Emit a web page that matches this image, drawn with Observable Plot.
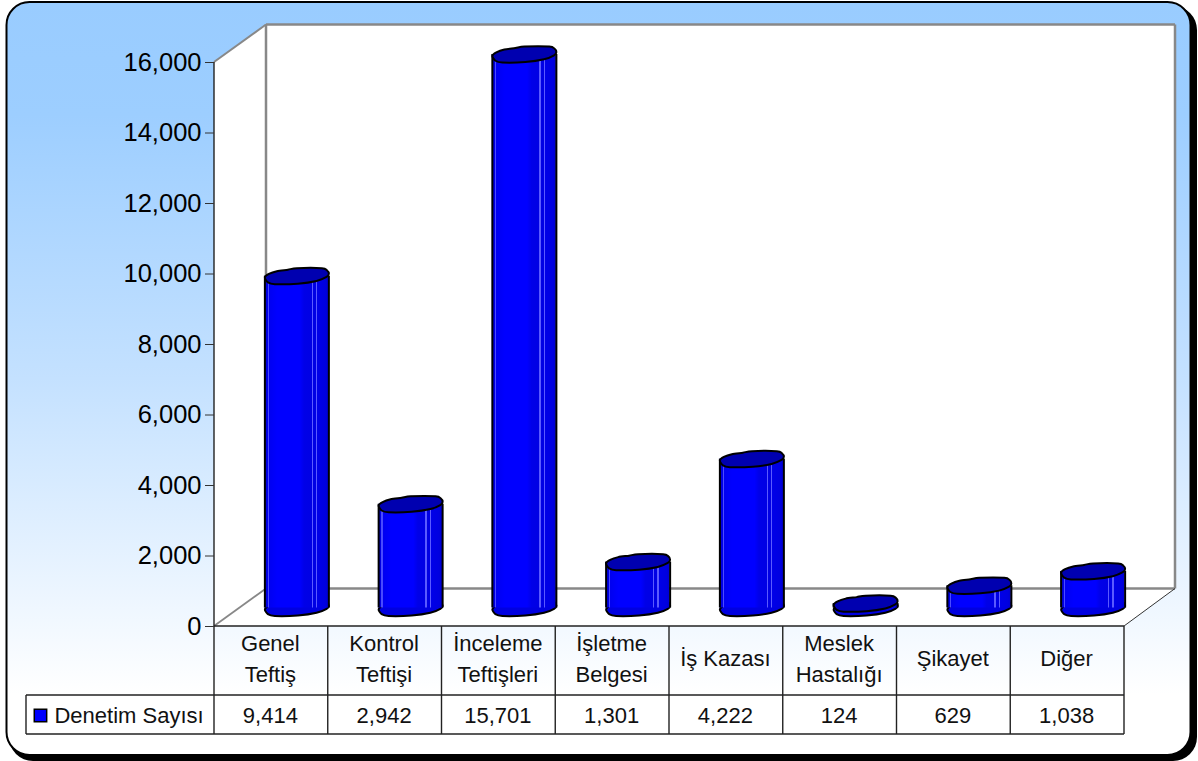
<!DOCTYPE html>
<html lang="tr">
<head>
<meta charset="utf-8">
<style>html,body{margin:0;padding:0;background:#fff}svg{display:block}</style>
<script src="https://cdn.jsdelivr.net/npm/d3@7"></script>
<script src="https://cdn.jsdelivr.net/npm/@observablehq/plot@0.6"></script>
</head>
<body>
<div id="chart"></div>
<script>
const categories = ["Genel Teftiş","Kontrol Teftişi","İnceleme Teftişleri","İşletme Belgesi","İş Kazası","Meslek Hastalığı","Şikayet","Diğer"];
const categoryLabels = ["Genel\nTeftiş","Kontrol\nTeftişi","İnceleme\nTeftişleri","İşletme\nBelgesi","İş Kazası","Meslek\nHastalığı","Şikayet","Diğer"];
const values = [9414,2942,15701,1301,4222,124,629,1038];
const yTicks = [0,2000,4000,6000,8000,10000,12000,14000,16000];
const seriesName = "Denetim Sayısı";
const rows = categories.map((cat,i)=>({cat,label:categoryLabels[i],value:values[i]}));
const fmt = d3.format(",");
const font = "'Liberation Sans', Arial, sans-serif";
const depthX = 52, depthY = 37.5, barW = 64, barDx = 25.5, barDy = -18.5;
const rowH1 = 69, rowH2 = 108;

const capShape = [[-32,1.3],[-28,-2.2],[-20,-5],[-9,-6.5],[0,-8],[25,-8],[30,-6],[32,-2.4],[29.7,.8],[19.7,4.8],[1,7.5],[-22,8],[-29,6.2]];
const capSymbol = {draw(ctx){ d3.line().curve(d3.curveCardinalClosed.tension(0.2)).context(ctx)(capShape); }};

const el = (n,a={},p)=>{const e=document.createElementNS("http://www.w3.org/2000/svg",n);for(const k in a)e.setAttribute(k,a[k]);if(p)p.appendChild(e);return e;};
function backdrop(index,scales){
  const g = el("g");
  const defs = el("defs",{},g);
  const bg = el("linearGradient",{id:"panel",x1:0,x2:0,y1:0,y2:1},defs);
  [[0,"#99ccff"],[0.15,"#9dceff"],[0.5,"#c4e1ff"],[0.92,"#ffffff"],[1,"#ffffff"]].forEach(([o,c])=>el("stop",{offset:o,"stop-color":c},bg));
  const bar = el("linearGradient",{id:"barFill",x1:0,x2:1,y1:0,y2:0},defs);
  [[0,"#0000d8"],[.05,"#0000e8"],[.05,"#4a4aff"],[.07,"#4a4aff"],[.07,"#0000f0"],[.2,"#0000ff"],[.55,"#0000ff"],[.62,"#0000e8"],[.74,"#0000e4"],[.74,"#5a5aff"],[.76,"#5a5aff"],[.76,"#0000e4"],[.81,"#0000e4"],[.81,"#5a5aff"],[.83,"#5a5aff"],[.83,"#0000e8"],[.95,"#0000e0"],[1,"#0000d0"]]
    .forEach(([o,c])=>el("stop",{offset:o,"stop-color":c},bar));
  el("rect",{x:9,y:6,width:1188,height:755,rx:24,fill:"#000"},g);
  el("rect",{x:6.5,y:2,width:1184,height:753,rx:23,fill:"url(#panel)",stroke:"#000","stroke-width":2},g);
  const x0=214, x1=1124;
  const yb=scales.y(0), yt=scales.y(16000);
  const P=(pts,attrs)=>el("polygon",{points:pts.map(p=>p.join(",")).join(" "),...attrs},g);
  const L=(a,b,s,w)=>el("line",{x1:a[0],y1:a[1],x2:b[0],y2:b[1],stroke:s,"stroke-width":w},g);
  const bl=[x0,yb], tl=[x0,yt], tb=[x0+depthX,yt-depthY], bb=[x0+depthX,yb-depthY], tr=[x1+depthX-1,yt-depthY], br=[x1+depthX-1,yb-depthY], fr=[x1,yb];
  P([tl,tb,tr,br,fr,bl],{fill:"#fff"});
  L(tl,tb,"#888",2); L(tb,tr,"#888",2.5); L(tb,bb,"#888",2.5); L(bb,br,"#888",2.5); L(tr,br,"#888",2.5); L(bl,bb,"#888",1.8); L(fr,br,"#333",1);
  return g;
}
function tableGrid(index,scales){
  const g = el("g",{stroke:"#222","stroke-width":1.4});
  const step=(1124-214)/categories.length, yb=scales.y(0), yt=scales.y(16000);
  const L=(a,b,c,d)=>el("line",{x1:a,y1:b,x2:c,y2:d},g);
  L(214,yt,214,yb+rowH2);
  categories.forEach((c,i)=>L(214+step*(i+1),yb,214+step*(i+1),yb+rowH2));
  L(214,yb,1124,yb);
  L(26,yb+rowH1,1124,yb+rowH1);
  L(26,yb+rowH2,1124,yb+rowH2);
  L(26,yb+rowH1,26,yb+rowH2);
  return g;
}

const plot = Plot.plot({
  width:1198, height:761,
  marginLeft:214, marginRight:74, marginTop:62, marginBottom:135,
  style:{background:"transparent",fontFamily:font,overflow:"visible"},
  x:{type:"band",domain:categories,padding:0,round:false,axis:null},
  y:{domain:[0,16000],axis:null},
  marks:[
    backdrop,
    Plot.dot(rows,{x:"cat",y:()=>0,dx:barDx,dy:barDy,symbol:()=>capSymbol,fill:"#0000e0",stroke:"#000",strokeWidth:2}),
    Plot.barY(rows,{x:"cat",y:"value",dx:barDx,dy:barDy,insetLeft:(113.75-barW)/2,insetRight:(113.75-barW)/2,fill:"url(#barFill)"}),
    Plot.ruleX(rows,{x:"cat",y1:0,y2:"value",dx:barDx-barW/2,dy:barDy,stroke:"#000",strokeWidth:2}),
    Plot.ruleX(rows,{x:"cat",y1:0,y2:"value",dx:barDx+barW/2,dy:barDy,stroke:"#000",strokeWidth:2}),
    Plot.dot(rows,{x:"cat",y:"value",dx:barDx,dy:barDy,symbol:()=>capSymbol,fill:"#0000b0",stroke:"#000",strokeWidth:2}),
    tableGrid,
    Plot.axisY({ticks:yTicks,tickFormat:fmt,tickSize:9,tickPadding:4,fontSize:25.5,stroke:"#333",fill:"#000",label:null}),
    Plot.text(rows,{x:"cat",y:()=>0,dx:-1,dy:30,text:"label",fontSize:22,lineHeight:1.41,fill:"#111",textAnchor:"middle",lineAnchor:"middle"}),
    Plot.text(rows,{x:"cat",y:()=>0,dx:-1,dy:(rowH1+rowH2)/2+0.5,text:d=>fmt(d.value),fontSize:22,fill:"#111"}),
    Plot.dot(rows.slice(0,1),{x:"cat",y:()=>0,dx:40-270.9,dy:(rowH1+rowH2)/2+0.5,symbol:"square",r:7,fill:"#0000ff",stroke:"#000",strokeWidth:1.5}),
    Plot.text(rows.slice(0,1),{x:"cat",y:()=>0,dx:54-270.9,dy:(rowH1+rowH2)/2+0.5,text:()=>seriesName,textAnchor:"start",fontSize:22,letterSpacing:"0.4px",fill:"#111"})
  ]
});
document.getElementById("chart").append(plot);
</script>
</body>
</html>
